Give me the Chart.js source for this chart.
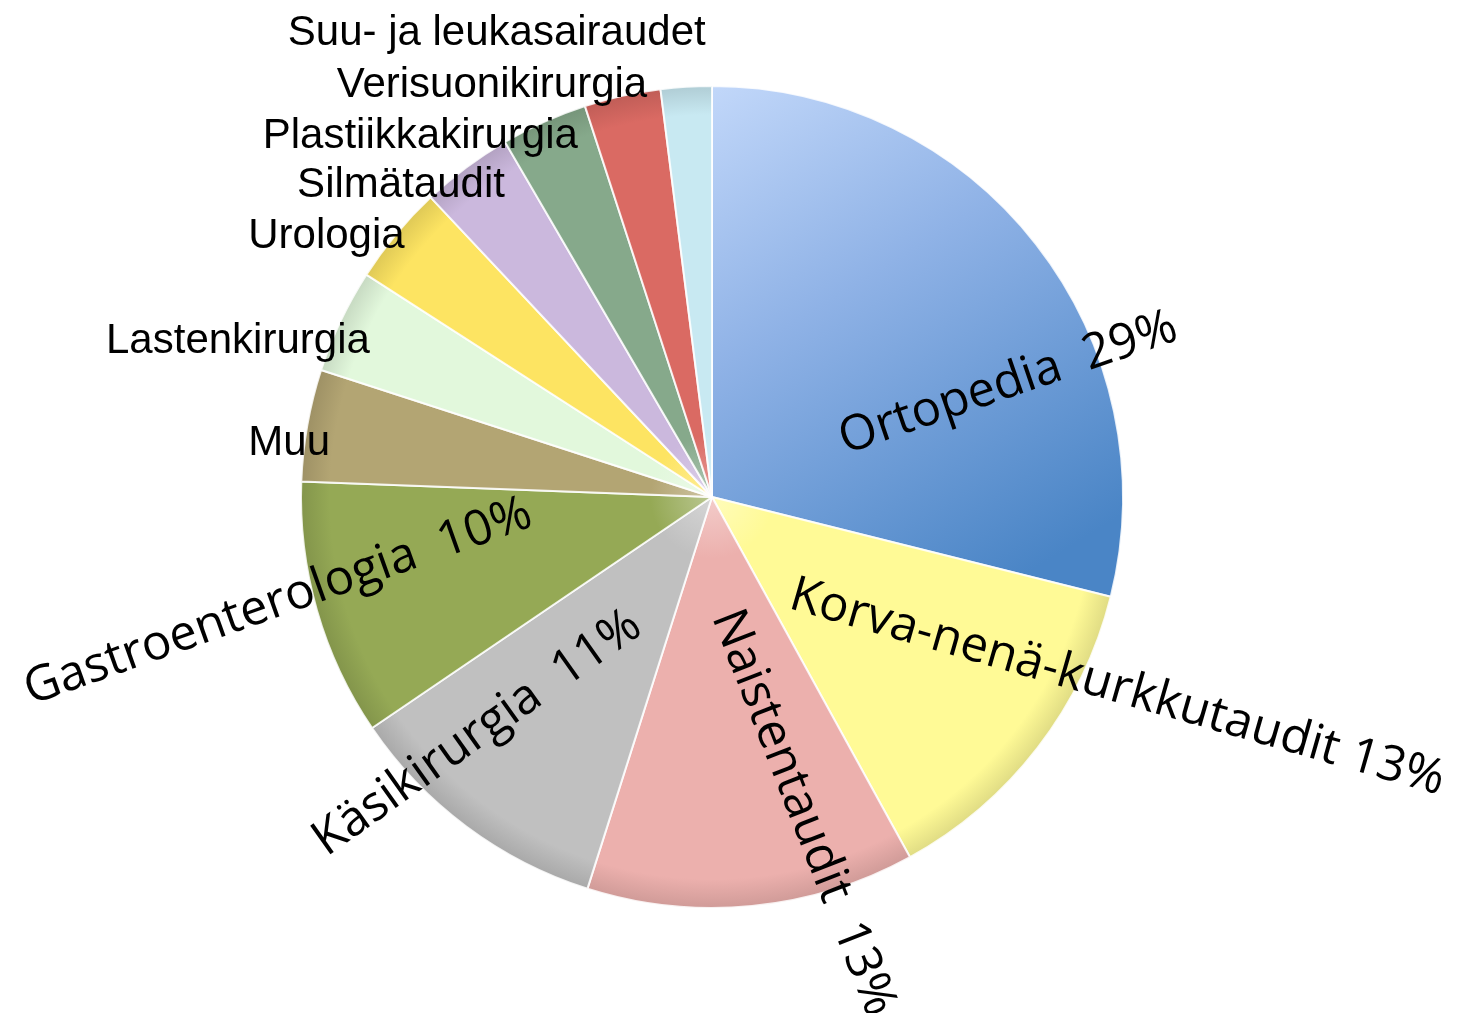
<!DOCTYPE html>
<html>
<head>
<meta charset="utf-8">
<script src="https://cdn.jsdelivr.net/npm/chart.js@4.4.1/dist/chart.umd.min.js"></script>
<style>
  html, body { margin: 0; padding: 0; background: #fff; }
  #wrap { width: 1457px; height: 1013px; }
</style>
</head>
<body>
<div id="wrap"><canvas id="chart"></canvas></div>
<script>
// data
const categories = [
  "Ortopedia", "Korva-nenä-kurkkutaudit", "Naistentaudit", "Käsikirurgia",
  "Gastroenterologia", "Muu", "Lastenkirurgia", "Urologia", "Silmätaudit",
  "Plastiikkakirurgia", "Verisuonikirurgia", "Suu- ja leukasairaudet"
];
const shares = [28.9, 13.1, 12.9, 10.6, 10.1, 4.4, 4.1, 3.9, 3.6, 3.4, 3.0, 2.0];
const percentLabels = ["29%", "13%", "13%", "11%", "10%", "", "", "", "", "", "", ""];

const sliceColors = [
  "#7fa6dc", "#fffa96", "#ecb0ad", "#c0c0c0", "#95a955", "#b3a573",
  "#e2f8dc", "#fde462", "#cbb8dd", "#86a98b", "#da6a63", "#c8e9f2"
];

// label placement: angle offset from slice middle (deg), radius fraction, rotation (deg)
const labelPlacement = [
  { dAng: 17,   rf: 0.772, rot: -19,   big: true, sep: "  " },
  { dAng: -12.4, rf: 1.09, rot: 16,    big: true, sep: " " },
  { dAng: -10.5, rf: 0.80, rot: 68.7,  big: true, sep: "  " },
  { dAng: 8.1,  rf: 0.81,  rot: -35.3, big: true, sep: "  " },
  { dAng: 2.4,  rf: 1.086, rot: -19.6, big: true, sep: "  " },
  { dAng: -3.8, rf: 0.935 },
  { dAng: -2.6, rf: 0.903 },
  { dAng: -0.8, rf: 0.962 },
  { dAng: 2.1,  rf: 0.887 },
  { dAng: 3.1,  rf: 0.91 },
  { dAng: 3.4,  rf: 0.986 },
  { dAng: 2.8,  rf: 1.10 }
];

const pieRadius = 411;

function shade(hex, amt) {
  let r = parseInt(hex.slice(1, 3), 16), g = parseInt(hex.slice(3, 5), 16), b = parseInt(hex.slice(5, 7), 16);
  const t = amt < 0 ? 0 : 255, p = Math.abs(amt);
  r = Math.round(r + (t - r) * p); g = Math.round(g + (t - g) * p); b = Math.round(b + (t - b) * p);
  return `rgb(${r},${g},${b})`;
}

function sliceFill(context) {
  const chart = context.chart;
  const area = chart.chartArea;
  const i = context.dataIndex;
  if (!area) return sliceColors[i];
  const cx = (area.left + area.right) / 2, cy = (area.top + area.bottom) / 2;
  const c = chart.ctx;
  if (i === 0) {
    const g = c.createLinearGradient(cx - 60, cy - pieRadius, cx + 260, cy + 110);
    g.addColorStop(0, "#c8dcfc");
    g.addColorStop(0.45, "#8fb2e6");
    g.addColorStop(1, "#4a85c6");
    return g;
  }
  const base = sliceColors[i];
  const g = c.createRadialGradient(cx, cy, 0, cx, cy, pieRadius);
  g.addColorStop(0, shade(base, 0.35));
  g.addColorStop(0.15, base);
  g.addColorStop(0.93, base);
  g.addColorStop(1, shade(base, -0.12));
  return g;
}

const labelPlugin = {
  id: "sliceLabels",
  afterDatasetsDraw(chart) {
    const ctx = chart.ctx;
    const meta = chart.getDatasetMeta(0);
    meta.data.forEach((arc, i) => {
      const p = labelPlacement[i];
      const { x, y, startAngle, endAngle, outerRadius } = arc.getProps(["x", "y", "startAngle", "endAngle", "outerRadius"], true);
      const a = (startAngle + endAngle) / 2 + p.dAng * Math.PI / 180;
      const lx = x + Math.cos(a) * outerRadius * p.rf;
      const ly = y + Math.sin(a) * outerRadius * p.rf;
      ctx.save();
      ctx.fillStyle = "#000";
      if (p.big) {
        ctx.translate(lx, ly);
        ctx.rotate(p.rot * Math.PI / 180);
        ctx.font = "49px 'Open Sans'";
        ctx.textAlign = "center";
        ctx.textBaseline = "middle";
        ctx.fillText(categories[i] + p.sep + percentLabels[i], 0, 0);
      } else {
        ctx.font = "42px 'Liberation Sans', Arial";
        ctx.textAlign = "right";
        ctx.textBaseline = "alphabetic";
        ctx.fillText(categories[i], lx, ly);
      }
      ctx.restore();
    });
  }
};

new Chart(document.getElementById("chart"), {
  type: "pie",
  data: {
    labels: categories,
    datasets: [{
      data: shares,
      backgroundColor: sliceFill,
      borderColor: "rgba(255,255,255,0.85)",
      borderWidth: 2,
    }],
  },
  options: {
    responsive: true,
    maintainAspectRatio: false,
    animation: false,
    radius: pieRadius,
    layout: {
      padding: { left: 0, right: 33, top: 0, bottom: 19 },
    },
    plugins: {
      legend: { display: false },
      tooltip: { enabled: false },
    },
  },
  plugins: [labelPlugin],
});
</script>
</body>
</html>
